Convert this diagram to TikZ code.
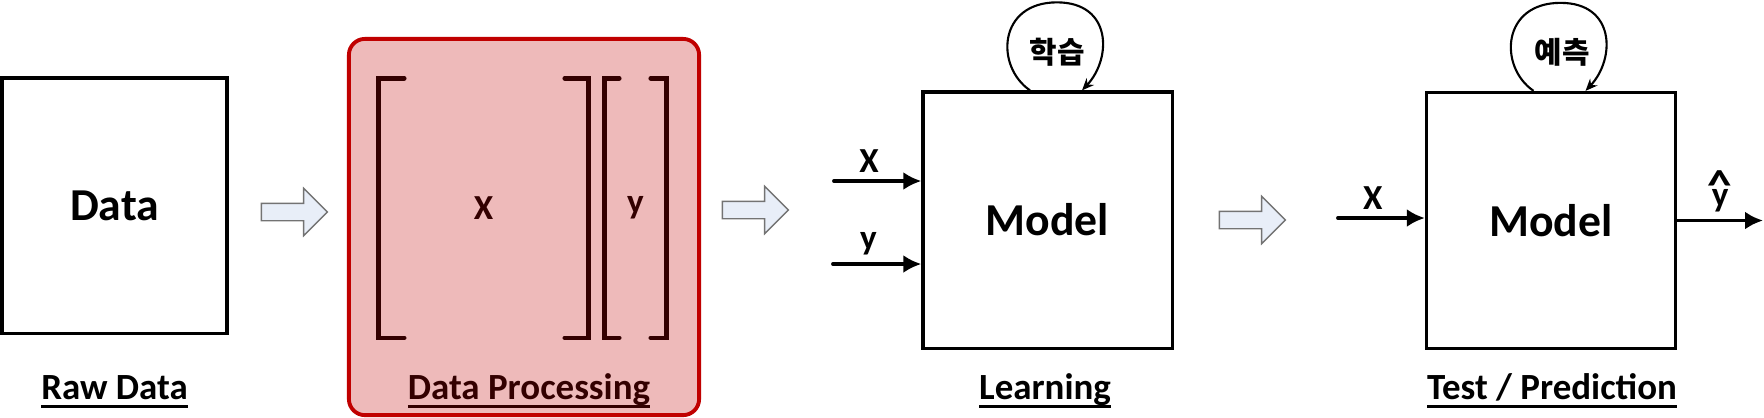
\documentclass[tikz,border=0pt]{standalone}
\usepackage{fontspec}
\setmainfont{Carlito}
\newfontfamily\krfont{Noto Sans CJK KR}
\usetikzlibrary{shapes.arrows, arrows.meta}
\definecolor{arrowfill}{RGB}{232,238,248}
\definecolor{procred}{RGB}{192,0,0}
\newcommand{\ulab}[1]{\setbox0\hbox{#1}\rlap{\rule[-2.6pt]{\wd0}{0.9pt}}\box0}

\begin{document}
\begin{tikzpicture}[x=0.01cm, y=-0.01cm,
    box/.style={draw, line width=0.9pt, minimum width=2.49cm, minimum height=2.56cm,
                font=\fontsize{13}{15}\selectfont\bfseries},
    lab/.style={anchor=base, inner sep=0pt, font=\fontsize{10.5}{12}\selectfont\bfseries},
    blockarrow/.style={single arrow, draw=black!55, fill=arrowfill, line width=0.4pt,
                minimum height=0.66cm, minimum width=0.46cm, inner xsep=0pt, inner ysep=0.08cm,
                single arrow head extend=0.15cm, single arrow head indent=0pt},
    brk/.style={line width=1.3pt, line cap=round},
    inarrow/.style={line width=1.1pt, line cap=round, -{Latex[length=0.18cm, width=0.18cm]}},
    inlab/.style={above=0.07cm, inner sep=0pt, font=\fontsize{10}{12}\selectfont\bfseries},
    loopline/.style={line width=0.6pt, -{Stealth[length=0.12cm, width=0.1cm]}},
    krlab/.style={font=\fontsize{8.5}{10}\selectfont\krfont\bfseries}]
        \useasboundingbox (0,0) rectangle (1764,417);
        % raw data
        \draw (114.5,205.5) node[box, minimum width=2.25cm, minimum height=2.55cm] (raw) {Data};
        \node[lab] (rawlab) at (114.5,399) {\ulab{Raw Data}};
        \draw (290,212) node[blockarrow] (arr1) {};
        % data processing
        \draw (483.5,208) node[font=\fontsize{10}{12}\selectfont\bfseries,
              minimum width=2.09cm, minimum height=2.58cm] (xmat) {X};
        \draw (635.5,208) node[font=\fontsize{10}{12}\selectfont\bfseries,
              minimum width=0.61cm, minimum height=2.58cm] (yvec) {y};
        \draw[brk] ([xshift=0.26cm]xmat.north west) -| (xmat.south west) -- +(26,0);
        \draw[brk] ([xshift=-0.24cm]xmat.north east) -| (xmat.south east) -- +(-24,0);
        \draw[brk] ([xshift=0.15cm]yvec.north west) -| (yvec.south west) -- +(15,0);
        \draw[brk] ([xshift=-0.16cm]yvec.north east) -| (yvec.south east) -- +(-16,0);
        \node[lab] (proclab) at (529,399) {\ulab{Data Processing}};
        \draw (524,227) node[draw=procred, line width=1.1pt, fill=procred, fill opacity=0.27,
              rounded corners=0.16cm, minimum width=3.50cm, minimum height=3.76cm] (proc) {};
        \draw (751,210) node[blockarrow] (arr2) {};
        % learning
        \draw (1047.5,220) node[box] (learn) {Model};
        \node[lab] (learnlab) at (1045,399) {\ulab{Learning}};
        \coordinate (xin1) at (834,181);
        \coordinate (yin1) at (833,264);
        \draw[inarrow] (xin1) -- (xin1 -| learn.west) node[pos=0.4, inlab] {X};
        \draw[inarrow] (yin1) -- (yin1 -| learn.west) node[pos=0.4, inlab] {y};
        \draw (1057,52) node[krlab] (learnloop) {학습};
        \draw[loopline] ([xshift=-0.175cm]learn.north) .. controls +(-35,-24) and +(-59,0) .. ++(27,-88)
              .. controls +(55,0) and +(30,-32) .. ([xshift=0.345cm]learn.north);
        \draw (1248,220) node[blockarrow] (arr3) {};
        % test / prediction
        \draw (1551,220.5) node[box] (test) {Model};
        \node[lab] (testlab) at (1552,399) {\ulab{Test / Prediction}};
        \coordinate (xin2) at (1338,218);
        \coordinate (yout) at (1763,220.5);
        \draw[inarrow] (xin2) -- (xin2 -| test.west) node[pos=0.4, inlab] {X};
        \draw[inarrow] (test.east) -- (yout) node[midway, inlab, align=center]
              {\scalebox{1.4}[1.2]{\textasciicircum}\\[-10pt]y};
        \draw (1562,52) node[krlab] (testloop) {예측};
        \draw[loopline] ([xshift=-0.175cm]test.north) .. controls +(-35,-24) and +(-59,0) .. ++(27,-88)
              .. controls +(55,0) and +(30,-32) .. ([xshift=0.345cm]test.north);
\end{tikzpicture}
\end{document}
